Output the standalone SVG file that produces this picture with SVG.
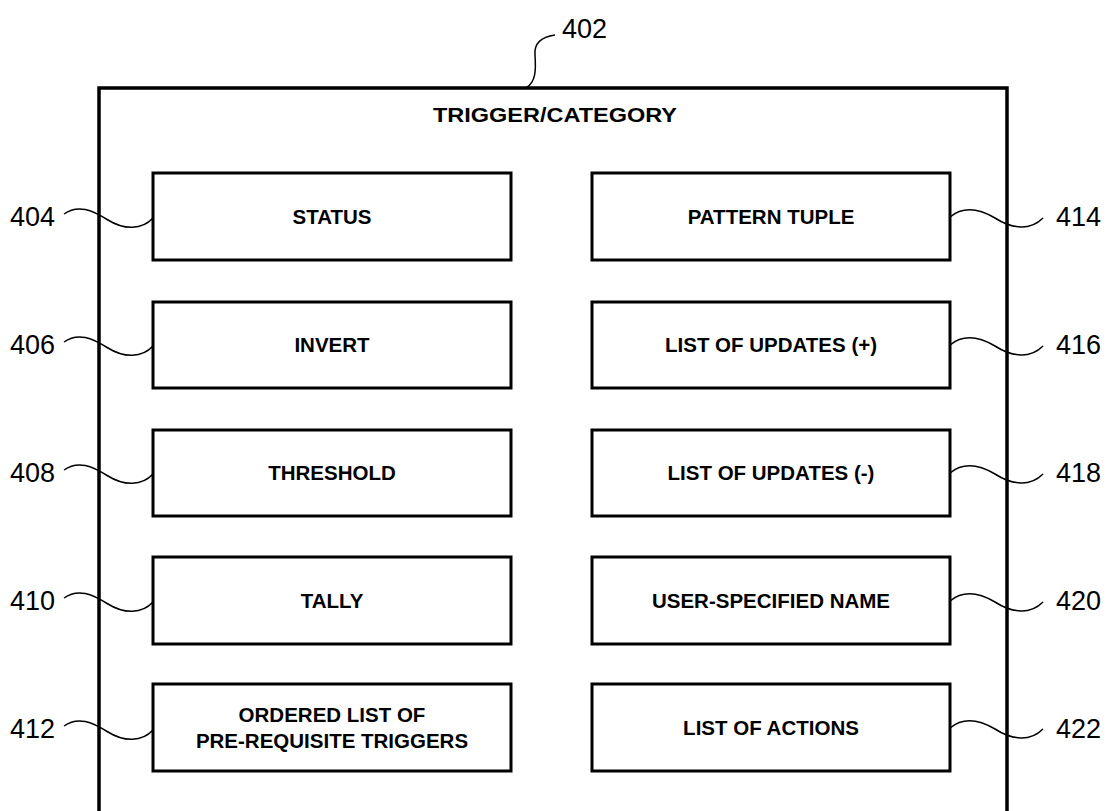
<svg xmlns="http://www.w3.org/2000/svg" width="1110" height="811" viewBox="0 0 1110 811">
<style>
.box{fill:#fff;stroke:#000;stroke-width:3}
.lbl{font-family:"Liberation Sans",Arial,sans-serif;font-weight:bold;font-size:20.5px;text-anchor:middle;fill:#000}
.num{font-family:"Liberation Sans",Arial,sans-serif;font-size:27px;fill:#000}
.lead{fill:none;stroke:#000;stroke-width:1.5}
</style>
<rect width="1110" height="811" fill="#fff"/>
<g id="container">
<path d="M99,811 V88 H1007 V811" fill="none" stroke="#000" stroke-width="3.5"/>
<text class="lbl" x="555" y="122" textLength="244" lengthAdjust="spacingAndGlyphs">TRIGGER/CATEGORY</text>
<text class="num" x="562" y="38">402</text>
</g>
<g id="n404"><rect class="box" x="153" y="173" width="358" height="87"/><text class="lbl" x="332" y="224">STATUS</text><text class="num" x="10" y="226">404</text></g>
<g id="n406"><rect class="box" x="153" y="302" width="358" height="86"/><text class="lbl" x="332" y="352">INVERT</text><text class="num" x="10" y="354">406</text></g>
<g id="n408"><rect class="box" x="153" y="430" width="358" height="86"/><text class="lbl" x="332" y="480">THRESHOLD</text><text class="num" x="10" y="482">408</text></g>
<g id="n410"><rect class="box" x="153" y="557" width="358" height="87"/><text class="lbl" x="332" y="608">TALLY</text><text class="num" x="10" y="610">410</text></g>
<g id="n412"><rect class="box" x="153" y="684" width="358" height="87"/><text class="lbl" x="332" y="722">ORDERED LIST OF</text><text class="lbl" x="332" y="748">PRE-REQUISITE TRIGGERS</text><text class="num" x="10" y="738">412</text></g>
<g id="n414"><rect class="box" x="592" y="173" width="358" height="87"/><text class="lbl" x="771" y="224">PATTERN TUPLE</text><text class="num" x="1056" y="226">414</text></g>
<g id="n416"><rect class="box" x="592" y="302" width="358" height="86"/><text class="lbl" x="771" y="352">LIST OF UPDATES (+)</text><text class="num" x="1056" y="354">416</text></g>
<g id="n418"><rect class="box" x="592" y="430" width="358" height="86"/><text class="lbl" x="771" y="480">LIST OF UPDATES (-)</text><text class="num" x="1056" y="482">418</text></g>
<g id="n420"><rect class="box" x="592" y="557" width="358" height="87"/><text class="lbl" x="771" y="608">USER-SPECIFIED NAME</text><text class="num" x="1056" y="610">420</text></g>
<g id="n422"><rect class="box" x="592" y="684" width="358" height="87"/><text class="lbl" x="771" y="735">LIST OF ACTIONS</text><text class="num" x="1056" y="738">422</text></g>
<g id="connectors">
<path class="lead" d="M555,35 C541,37 534,44 535,55 C536,70 536,82 526,88"/>
<g id="left-leads">
<path class="lead" d="M64,214 C78,204 92,210 108,220 C124,230 142,230 153,218"/>
<path class="lead" d="M64,342 C78,332 92,338 108,348 C124,358 142,358 153,346"/>
<path class="lead" d="M64,470 C78,460 92,466 108,476 C124,486 142,486 153,474"/>
<path class="lead" d="M64,598 C78,588 92,594 108,604 C124,614 142,614 153,602"/>
<path class="lead" d="M64,726 C78,716 92,722 108,732 C124,742 142,742 153,730"/>
</g>
<g id="right-leads">
<path class="lead" d="M950,217 C962,207 978,208 995,218 C1012,229 1030,231 1043,218"/>
<path class="lead" d="M950,345 C962,335 978,336 995,346 C1012,357 1030,359 1043,346"/>
<path class="lead" d="M950,473 C962,463 978,464 995,474 C1012,485 1030,487 1043,474"/>
<path class="lead" d="M950,601 C962,591 978,592 995,602 C1012,613 1030,615 1043,602"/>
<path class="lead" d="M950,728 C962,718 978,719 995,729 C1012,740 1030,742 1043,729"/>
</g>
</g>
</svg>
